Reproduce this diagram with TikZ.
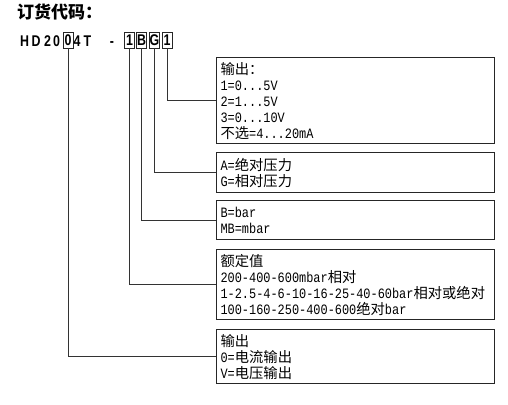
\documentclass[tikz,border=0pt]{standalone}
\usepackage{fontspec}
\newfontfamily\cjk{Noto Sans CJK SC}
\newfontfamily\lat[FakeStretch=0.833]{Liberation Mono}
\newfontfamily\codefont[FakeStretch=0.8]{Liberation Sans}
\newcommand\zh[1]{{\cjk #1}}
\begin{document}
\begin{tikzpicture}[x=1pt,y=-1pt,
  info/.style={draw=black!85, line width=1.1pt, anchor=north west, inner xsep=4pt, inner ysep=0pt,
    align=left, text width=270pt, font=\fontsize{14.3}{16}\selectfont\lat},
  code/.style={anchor=base, inner sep=0pt, font=\codefont\bfseries\fontsize{15.5}{15.5}\selectfont},
  cbox/.style={draw=black!85, line width=0.9pt, minimum width=10pt, minimum height=16pt, inner sep=0pt,
    font=\codefont\bfseries\fontsize{15.5}{15.5}\selectfont},
  conn/.style={draw=black!80, line width=1pt}]
\useasboundingbox (0,0) rectangle (508,404);
\fill[white] (0,0) rectangle (508,404);

\node[anchor=base west, inner sep=0pt, font=\cjk\bfseries\fontsize{17}{17}\selectfont] (title) at (17,18.5) {订货代码：};

\node[code] (cH) at (24.5,46.5) {H};
\node[code] (cD) at (36,46.5) {D};
\node[code] (c2) at (47.5,46.5) {2};
\node[code] (c0a) at (56.5,46.5) {0};
\node[cbox] (k0) at (68,40) {0};
\node[code] (c4) at (77,46.5) {4};
\node[code] (cT) at (87.5,46.5) {T};
\node[code] (cdash) at (112,46.5) {-};
\node[cbox] (k1) at (129.5,40) {1};
\node[cbox] (kB) at (141.5,40) {B};
\node[cbox] (kG) at (154.5,40) {G};
\node[cbox] (k1b) at (167,40) {1};

\node[info, minimum height=86pt] (b1) at (216,57) {\zh{输出：}\\1=0...5V\\2=1...5V\\3=0...10V\\\zh{不选}=4...20mA};
\node[info, minimum height=40pt] (b2) at (216,152) {A=\zh{绝对压力}\\G=\zh{相对压力}};
\node[info, minimum height=39pt] (b3) at (216,200) {B=bar\\MB=mbar};
\node[info, minimum height=70pt] (b4) at (216,249) {\zh{额定值}\\200-400-600mbar\zh{相对}\\1-2.5-4-6-10-16-25-40-60bar\zh{相对或绝对}\\100-160-250-400-600\zh{绝对}bar};
\node[info, minimum height=54pt] (b5) at (216,329) {\zh{输出}\\0=\zh{电流输出}\\V=\zh{电压输出}};

\draw[conn] (k1b.south) |- (b1.west);
\draw[conn] (kG.south) |- (b2.west);
\draw[conn] (kB.south) |- (b3.west);
\draw[conn] (k1.south) |- (b4.west);
\draw[conn] (k0.south) |- (b5.west);
\end{tikzpicture}
\end{document}
